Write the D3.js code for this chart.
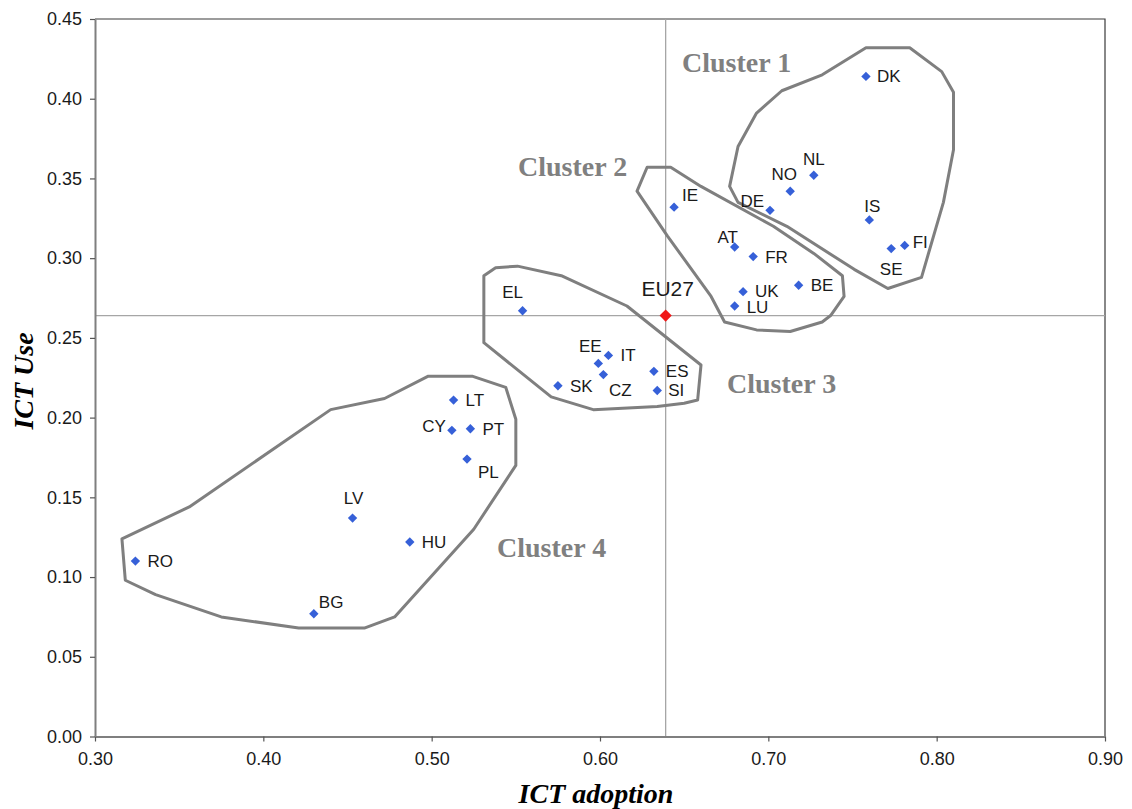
<!DOCTYPE html>
<html>
<head>
<meta charset="utf-8">
<script src="https://cdn.jsdelivr.net/npm/d3@7"></script>
<style>
  body { margin: 0; background: #fff; }
  svg text { font-family: "Liberation Sans", Arial, sans-serif; }
</style>
</head>
<body>
<script>
// country scores: ICT adoption (x) vs ICT use (y)
var countries = ["DK","NL","NO","DE","IS","FI","SE","IE","AT","FR","BE","UK","LU",
                 "EL","EE","IT","CZ","SK","ES","SI","LT","CY","PT","PL","LV","HU","RO","BG"];
var adoption  = [0.758,0.727,0.713,0.701,0.760,0.781,0.773,0.644,0.680,0.691,0.718,0.685,0.680,
                 0.554,0.599,0.605,0.602,0.575,0.632,0.634,0.513,0.512,0.523,0.521,0.453,0.487,0.324,0.430];
var use       = [0.414,0.352,0.342,0.330,0.324,0.308,0.306,0.332,0.307,0.301,0.283,0.279,0.270,
                 0.267,0.234,0.239,0.227,0.220,0.229,0.217,0.211,0.192,0.193,0.174,0.137,0.122,0.110,0.077];

var eu27 = { name: "EU27", adoption: 0.639, use: 0.264 };

var xTicks = [0.30,0.40,0.50,0.60,0.70,0.80,0.90];
var yTicks = [0.00,0.05,0.10,0.15,0.20,0.25,0.30,0.35,0.40,0.45];

// hand drawn cluster outlines, in data units
var cluster1 = [[0.758,0.432],[0.784,0.432],[0.803,0.417],[0.810,0.404],[0.810,0.368],[0.804,0.335],
                [0.791,0.288],[0.771,0.281],[0.751,0.293],[0.711,0.320],[0.682,0.335],[0.677,0.345],
                [0.682,0.370],[0.693,0.391],[0.708,0.405],[0.732,0.415]];
var cluster2 = [[0.628,0.357],[0.642,0.357],[0.660,0.345],[0.703,0.320],[0.727,0.303],[0.744,0.289],
                [0.745,0.276],[0.737,0.264],[0.732,0.260],[0.713,0.254],[0.693,0.255],[0.674,0.260],
                [0.666,0.276],[0.640,0.314],[0.622,0.342]];
var cluster3 = [[0.531,0.247],[0.531,0.289],[0.538,0.294],[0.551,0.295],[0.577,0.289],[0.616,0.270],
                [0.660,0.233],[0.658,0.211],[0.650,0.209],[0.634,0.207],[0.596,0.205],[0.571,0.213]];
var cluster4 = [[0.316,0.124],[0.356,0.144],[0.440,0.205],[0.472,0.212],[0.498,0.226],[0.524,0.226],
                [0.544,0.219],[0.550,0.199],[0.550,0.170],[0.525,0.130],[0.478,0.075],[0.460,0.068],
                [0.421,0.068],[0.375,0.075],[0.336,0.089],[0.318,0.098]];
var clusterNames = ["Cluster 1","Cluster 2","Cluster 3","Cluster 4"];

// where each label sits relative to its marker: dx, dy, anchor
var labelPos = {
  DK:[11,0,"start"], NL:[0,-16,"middle"], NO:[-6,-17,"middle"], DE:[-6,-9,"end"],
  IS:[3,-14,"middle"], FI:[8,-3,"start"], SE:[0,20,"middle"], IE:[8,-12,"start"],
  AT:[-7,-10,"middle"], FR:[12,0,"start"], BE:[12,0,"start"], UK:[12,-1,"start"],
  LU:[12,1,"start"], EL:[-10,-19,"middle"], EE:[-8,-17,"middle"], IT:[12,0,"start"],
  CZ:[17,15,"middle"], SK:[12,0,"start"], ES:[12,0,"start"], SI:[11,0,"start"],
  LT:[12,0,"start"], CY:[-6,-4,"end"], PT:[12,0,"start"], PL:[11,13,"start"],
  LV:[1,-20,"middle"], HU:[12,0,"start"], RO:[12,0,"start"], BG:[5,-12,"start"]
};
var clusterLabelPos = [[682,72],[518,176],[727,393],[497,557]];

var width = 1132, height = 809;
var plotLeft = 95, plotRight = 1105, plotTop = 19, plotBottom = 736.5;

var svg = d3.select("body").append("svg")
    .attr("width", width)
    .attr("height", height);

var x = d3.scaleLinear().domain([0.30, 0.90]).range([plotLeft, plotRight]);
var y = d3.scaleLinear().domain([0, 0.45]).range([plotBottom, plotTop]);

// frame top and right
svg.append("path")
    .attr("d", "M" + plotLeft + "," + plotTop + "H" + plotRight + "V" + plotBottom)
    .attr("fill", "none")
    .attr("stroke", "#3a3a3a")
    .attr("stroke-width", 1.2);

// reference lines through EU27
svg.append("line")
    .attr("x1", x(eu27.adoption)).attr("x2", x(eu27.adoption))
    .attr("y1", plotTop).attr("y2", plotBottom)
    .attr("stroke", "#a6a6a6").attr("stroke-width", 1.3);
svg.append("line")
    .attr("x1", plotLeft).attr("x2", plotRight)
    .attr("y1", y(eu27.use)).attr("y2", y(eu27.use))
    .attr("stroke", "#a6a6a6").attr("stroke-width", 1.3);

// axes
var xAxis = svg.append("g")
    .attr("transform", "translate(0," + plotBottom + ")")
    .call(d3.axisBottom(x).tickValues(xTicks).tickFormat(d3.format(".2f")).tickSize(5).tickSizeOuter(0));
var yAxis = svg.append("g")
    .attr("transform", "translate(" + plotLeft + ",0)")
    .call(d3.axisLeft(y).tickValues(yTicks).tickFormat(d3.format(".2f")).tickSize(5).tickSizeOuter(0));

[xAxis, yAxis].forEach(function(a){
  a.select(".domain").attr("stroke", "#7f7f7f").attr("stroke-width", 2);
  a.selectAll(".tick line").attr("stroke", "#555").attr("stroke-width", 1.2);
  a.selectAll(".tick text")
    .attr("font-size", 18)
    .attr("fill", "#1a1a1a")
    .style("font-family", "'Liberation Sans', Arial, sans-serif");
});
xAxis.selectAll(".tick text").attr("y", 16);
yAxis.selectAll(".tick text").attr("x", -13);

// axis titles
svg.append("text")
    .attr("x", 596).attr("y", 803)
    .attr("text-anchor", "middle")
    .style("font-family", "'Liberation Serif', 'Times New Roman', serif")
    .style("font-weight", "bold").style("font-style", "italic")
    .attr("font-size", 28)
    .text("ICT adoption");
svg.append("text")
    .attr("transform", "translate(33,381) rotate(-90)")
    .attr("text-anchor", "middle")
    .style("font-family", "'Liberation Serif', 'Times New Roman', serif")
    .style("font-weight", "bold").style("font-style", "italic")
    .attr("font-size", 28)
    .text("ICT Use");

// cluster outlines
var outline = d3.line()
    .x(function(d){ return x(d[0]); })
    .y(function(d){ return y(d[1]); })
    .curve(d3.curveLinearClosed);

svg.selectAll("path.cluster")
    .data([cluster1, cluster2, cluster3, cluster4])
    .enter()
    .append("path")
    .attr("class", "cluster")
    .attr("d", outline)
    .attr("fill", "none")
    .attr("stroke", "#7f7f7f")
    .attr("stroke-width", 3)
    .attr("stroke-linejoin", "round");

svg.selectAll("text.clabel")
    .data(clusterNames)
    .enter()
    .append("text")
    .attr("class", "clabel")
    .attr("x", function(d, i){ return clusterLabelPos[i][0]; })
    .attr("y", function(d, i){ return clusterLabelPos[i][1]; })
    .style("font-family", "'Liberation Serif', 'Times New Roman', serif")
    .style("font-weight", "bold")
    .attr("font-size", 28)
    .attr("fill", "#808080")
    .text(function(d){ return d; });

// country points
var points = countries.map(function(c, i){
  return { name: c, adoption: adoption[i], use: use[i] };
});

var diamond = d3.symbol().type(d3.symbolDiamond2);

svg.selectAll("path.country")
    .data(points)
    .enter()
    .append("path")
    .attr("class", "country")
    .attr("d", diamond.size(56))
    .attr("transform", function(d){ return "translate(" + x(d.adoption) + "," + y(d.use) + ")"; })
    .attr("fill", "#3660d8");

svg.selectAll("text.country")
    .data(points)
    .enter()
    .append("text")
    .attr("class", "country")
    .attr("x", function(d){ return x(d.adoption) + labelPos[d.name][0]; })
    .attr("y", function(d){ return y(d.use) + labelPos[d.name][1]; })
    .attr("dy", "0.35em")
    .attr("text-anchor", function(d){ return labelPos[d.name][2]; })
    .attr("font-size", 17)
    .attr("fill", "#1a1a1a")
    .text(function(d){ return d.name; });

// EU27 average
svg.append("path")
    .attr("d", diamond.size(95))
    .attr("transform", "translate(" + x(eu27.adoption) + "," + y(eu27.use) + ")")
    .attr("fill", "#f01818");
svg.append("text")
    .attr("x", x(eu27.adoption) + 2)
    .attr("y", y(eu27.use) - 27)
    .attr("dy", "0.35em")
    .attr("text-anchor", "middle")
    .attr("font-size", 21)
    .attr("fill", "#1a1a1a")
    .text(eu27.name);
</script>
</body>
</html>
